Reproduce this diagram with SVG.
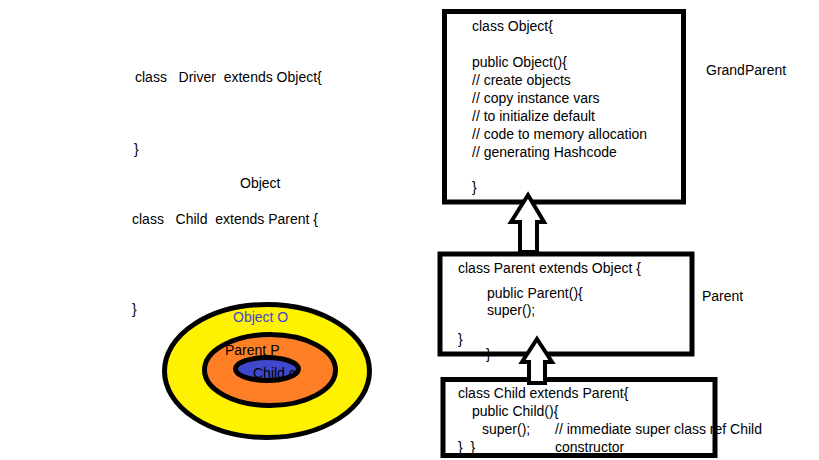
<svg xmlns="http://www.w3.org/2000/svg" width="819" height="460" viewBox="0 0 819 460">
<style>
text{font-family:"Liberation Sans",Arial,sans-serif;font-size:14px;fill:#000}
.box{fill:#fff;stroke:none}
.border{fill:none;stroke:#000;stroke-width:5}
.arrow{fill:#fff;stroke:#000;stroke-width:4;stroke-linejoin:miter}
.ring{stroke:#000;stroke-width:5}
</style>
<rect width="819" height="460" fill="#fff"/>
<g id="driver-text">
<text x="135" y="82" xml:space="preserve">class   Driver  extends Object{</text>
<text x="134" y="154">}</text>
<text x="240" y="188">Object</text>
<text x="132" y="224" xml:space="preserve">class   Child  extends Parent {</text>
<text x="132" y="314">}</text>
</g>
<g id="venn">
<ellipse class="ring" cx="267" cy="371" rx="102.5" ry="66.5" fill="#fff200"/>
<text x="233" y="322" style="fill:#3f48cc">Object O</text>
<ellipse class="ring" cx="270" cy="370" rx="65.5" ry="35.5" fill="#ff7f27"/>
<text x="225" y="355">Parent P</text>
<ellipse cx="267" cy="369" rx="31.5" ry="11.5" fill="#3f48cc"/>
<text x="253" y="378">Child c</text>
<ellipse cx="267" cy="369" rx="31.5" ry="11.5" fill="none" stroke="#000" stroke-width="5"/>
</g>
<g id="object">
<rect class="box" x="444.5" y="11.5" width="239" height="190.5"/>
<text x="472" y="31">class Object{</text>
<text x="472" y="67">public Object(){</text>
<text x="472" y="85">// create objects</text>
<text x="472" y="103">// copy instance vars</text>
<text x="472" y="121">// to initialize default</text>
<text x="472" y="139">// code to memory allocation</text>
<text x="472" y="157">// generating Hashcode</text>
<text x="472" y="192">}</text>
<rect class="border" x="444.5" y="11.5" width="239" height="190.5"/>
</g>
<text x="706" y="75">GrandParent</text>
<g id="parent">
<rect class="box" x="440" y="254" width="252" height="100"/>
<text x="458" y="273">class Parent extends Object {</text>
<text x="487" y="298">public Parent(){</text>
<text x="487" y="315">super();</text>
<text x="458" y="344">}</text>
<text x="486" y="359">}</text>
<rect class="border" x="440" y="254" width="252" height="100"/>
</g>
<text x="702" y="301">Parent</text>
<g id="child">
<rect class="box" x="443" y="379.5" width="272" height="76"/>
<text x="458" y="398">class Child extends Parent{</text>
<text x="472" y="416">public Child(){</text>
<text x="482" y="434">super();</text>
<text x="555" y="434">// immediate super class ref Child</text>
<text x="555" y="452">constructor</text>
<text x="458" y="452" xml:space="preserve">}  }</text>
<rect class="border" x="443" y="379.5" width="272" height="76"/>
</g>
<g id="connectors">
<polygon class="arrow" points="528,195 544,222 537,222 537,252 520,252 520,222 511,222"/>
<polygon class="arrow" points="537,339 552,362 545,362 545,383 529,383 529,362 522,362"/>
</g>
</svg>
